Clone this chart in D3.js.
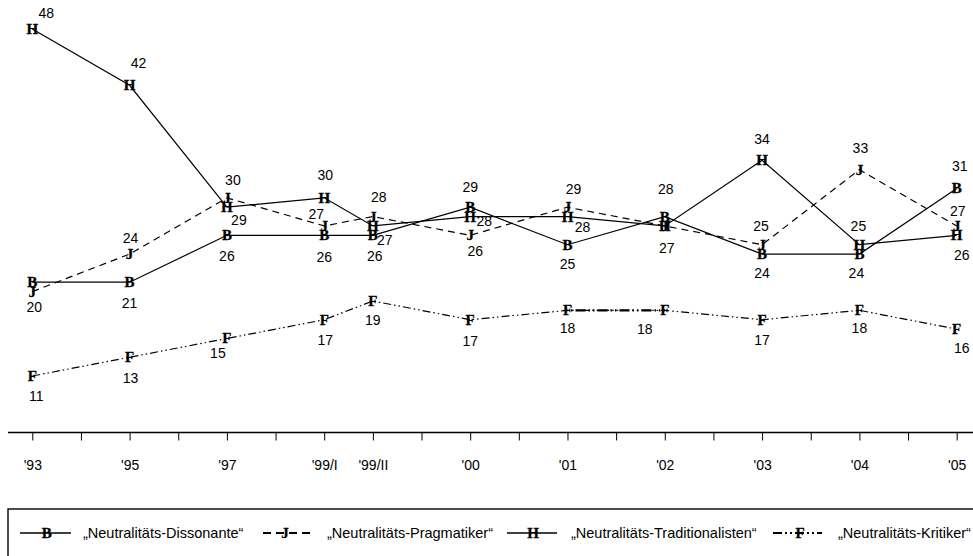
<!DOCTYPE html>
<html>
<head>
<meta charset="utf-8">
<script src="https://cdn.jsdelivr.net/npm/d3@7/dist/d3.min.js"></script>
<style>
  html, body { margin: 0; padding: 0; background: #fff; }
  svg { display: block; }
</style>
</head>
<body>
<svg id="chart" width="973" height="556"></svg>
<script>
// ---------- DATA ----------
const tickLabels = ["'93", "", "'95", "", "'97", "", "'99/I", "'99/II", "", "'00", "", "'01", "", "'02", "", "'03", "", "'04", "", "'05"];
const categories = ["'93", "'95", "'97", "'99/I", "'99/II", "'00", "'01", "'02", "'03", "'04", "'05"];

const dissonante       = [21, 21, 26, 26, 26, 29, 25, 28, 24, 24, 31];
const pragmatiker      = [20, 24, 30, 27, 28, 26, 29, 27, 25, 33, 27];
const traditionalisten = [48, 42, 29, 30, 27, 28, 28, 27, 34, 25, 26];
const kritiker         = [11, 13, 15, 17, 19, 17, 18, 18, 17, 18, 16];

const seriesNames = ["\u201ENeutralit\u00E4ts-Dissonante\u201C", "\u201ENeutralit\u00E4ts-Pragmatiker\u201C",
                     "\u201ENeutralit\u00E4ts-Traditionalisten\u201C", "\u201ENeutralit\u00E4ts-Kritiker\u201C"];
const seriesMarkers = ["B", "J", "H", "F"];

// ---------- LAYOUT / STYLE (not data) ----------
const dashStyles = [null, "7,5", null, "8,3,1.5,3,1.5,3"];
// label offsets [dx, dy] relative to the marker; null = label not shown
const labelOffsets = [
  [null, [0,21], [0,21], [0,22], [2,21], [0,-20], [0,19], [1,-27], [0,19], [-3,19], [3,-22]],
  [[2,16], [1,-16], [6,-18], [-8,-12], [6,-19], [5,16], [6,-18], [2,22], [-1,-19], [1,-22], [1,-15]],
  [[14,-16], [9,-22], [12,13], [1,-23], [12,14], [14,5], [15,11], null, [0,-21], [-1,-19], [5,20]],
  [[4,20], [1,21], [-9,15], [1,20], [0,19], [0,21], [0,18], [-20,19], [0,20], [0,18], [5,19]]
];

const svg = d3.select("#chart");
const allSeries = [dissonante, pragmatiker, traditionalisten, kritiker];

const x = d3.scaleLinear().domain([0, tickLabels.length - 1]).range([32.3, 956.7]);
const xCat = c => x(tickLabels.indexOf(c));
const y = d3.scaleLinear().domain([11, 48]).range([376, 29]);

// ---------- AXIS ----------
const axisY = 432.5;
const axis = d3.axisBottom(x)
  .tickValues(d3.range(tickLabels.length))
  .tickFormat(i => tickLabels[i])
  .tickSizeInner(8).tickSizeOuter(0).tickPadding(20);
const gAxis = svg.append("g").attr("transform", `translate(0,${axisY})`).call(axis);
gAxis.select(".domain").remove();
gAxis.append("line").attr("x1", 8).attr("x2", 973).attr("y1", 0).attr("y2", 0)
  .attr("stroke", "#000").attr("stroke-width", 1.6);
gAxis.selectAll(".tick line").attr("stroke", "#000").attr("stroke-width", 1);
gAxis.selectAll(".tick text").attr("font-family", "Liberation Sans, Arial, sans-serif")
  .attr("font-size", 14).attr("fill", "#000");

// ---------- LINES ----------
const line = d3.line().x((d, i) => xCat(categories[i])).y(d => y(d));
allSeries.forEach((vals, s) => {
  const p = svg.append("path").datum(vals).attr("d", line)
    .attr("fill", "none").attr("stroke", "#000").attr("stroke-width", 1.2);
  if (dashStyles[s]) p.attr("stroke-dasharray", dashStyles[s]);
});
// heavier rendering of the Kritiker segment '01 -> '02
svg.append("path").datum(kritiker.slice(6, 8))
  .attr("d", d3.line().x((d, i) => xCat(categories[6 + i])).y(d => y(d)))
  .attr("fill", "none").attr("stroke", "#000").attr("stroke-width", 2.2)
  .attr("stroke-dasharray", "10,3,1.5,3,1.5,3").attr("stroke-dashoffset", -8);

// ---------- MARKERS ----------
const markerFont = "Liberation Serif, Times New Roman, serif";
allSeries.forEach((vals, s) => {
  svg.append("g").selectAll("text").data(vals).join("text")
    .attr("x", (d, i) => xCat(categories[i]))
    .attr("y", d => y(d))
    .attr("dy", "0.33em")
    .attr("text-anchor", "middle")
    .attr("font-family", markerFont)
    .attr("font-weight", "bold")
    .attr("font-size", 15)
    .attr("fill", "#000")
    .attr("stroke", "#000").attr("stroke-width", 0.3)
    .text(seriesMarkers[s]);
});

// ---------- VALUE LABELS ----------
allSeries.forEach((vals, s) => {
  svg.append("g").selectAll("text")
    .data(vals.map((v, i) => ({ v, i, off: labelOffsets[s][i] })).filter(d => d.off))
    .join("text")
    .attr("x", d => xCat(categories[d.i]) + d.off[0])
    .attr("y", d => y(d.v) + d.off[1])
    .attr("dy", "0.35em")
    .attr("text-anchor", "middle")
    .attr("font-family", "Liberation Sans, Arial, sans-serif")
    .attr("font-size", 14)
    .attr("fill", "#000")
    .text(d => d.v);
});

// ---------- LEGEND ----------
const lg = svg.append("g");
lg.append("rect").attr("x", 8).attr("y", 509).attr("width", 980).attr("height", 80)
  .attr("fill", "none").attr("stroke", "#000").attr("stroke-width", 1.4);
const legendItems = [
  { sx: 20, ex: 71, mx: 46.7, tx: 83 },
  { sx: 263, ex: 312, mx: 285, tx: 327 },
  { sx: 507, ex: 557, mx: 533, tx: 571 },
  { sx: 773, ex: 822, mx: 800, tx: 838 }
];
const legendDash = [null, "8,5", null, "9,3,2,3,2,3"];
const ly = 533;
legendItems.forEach((it, s) => {
  const l = lg.append("line").attr("x1", it.sx).attr("x2", it.ex).attr("y1", ly).attr("y2", ly)
    .attr("stroke", "#000").attr("stroke-width", s === 1 || s === 3 ? 1.8 : 1.3);
  if (legendDash[s]) l.attr("stroke-dasharray", legendDash[s]);
  lg.append("text").attr("x", it.mx).attr("y", ly).attr("dy", "0.33em")
    .attr("text-anchor", "middle")
    .attr("font-family", markerFont)
    .attr("font-weight", "bold").attr("font-size", 15)
    .attr("stroke", "#000").attr("stroke-width", 0.3)
    .text(seriesMarkers[s]);
  lg.append("text").attr("x", it.tx).attr("y", ly).attr("dy", "0.35em")
    .attr("font-family", "Liberation Sans, Arial, sans-serif")
    .attr("font-size", 14.5).text(seriesNames[s]);
});
</script>
</body>
</html>
